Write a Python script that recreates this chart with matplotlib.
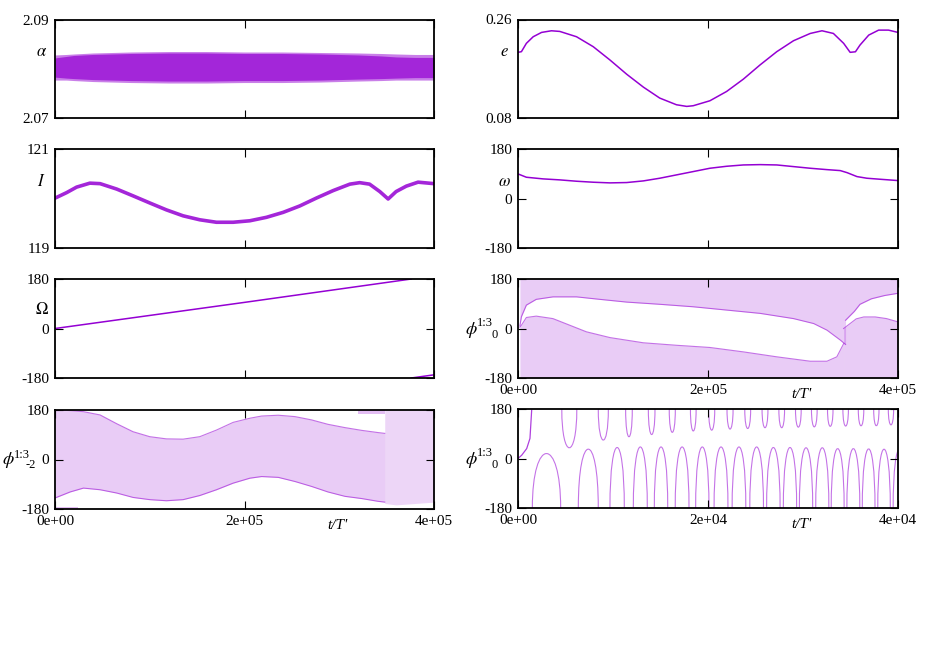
import numpy as np
import matplotlib
matplotlib.use('Agg')
import matplotlib.pyplot as plt
from matplotlib.path import Path
from matplotlib.patches import PathPatch

plt.rcParams['font.family'] = ['Liberation Serif', 'DejaVu Serif']
plt.rcParams['mathtext.fontset'] = 'stix'
plt.rcParams['font.size'] = 11

PURPLE = '#9400d3'

# ---------------- data ----------------
# alpha band envelopes
alpha_t = [0, 12000, 20000, 40000, 80000, 120000, 160000, 200000, 240000, 280000,
           320000, 344000, 360000, 380000, 400000]
alpha_hi = [2.0828, 2.0829, 2.0830, 2.0832, 2.0834, 2.0835, 2.0835, 2.0834, 2.0834,
            2.0833, 2.0832, 2.0831, 2.0830, 2.0829, 2.0829]
alpha_lo = [2.0777, 2.0777, 2.0776, 2.0774, 2.0772, 2.0771, 2.0771, 2.0772, 2.0772,
            2.0773, 2.0775, 2.0776, 2.0777, 2.0777, 2.0777]
alpha_core_hi = [2.0822, 2.0825, 2.0827, 2.0829, 2.0831, 2.0832, 2.0832, 2.0831, 2.0831,
                 2.0830, 2.0828, 2.0826, 2.0824, 2.0823, 2.0823]
alpha_core_lo = [2.0783, 2.0781, 2.0780, 2.0778, 2.0776, 2.0775, 2.0775, 2.0776, 2.0776,
                 2.0777, 2.0779, 2.0780, 2.0781, 2.0782, 2.0782]

# eccentricity
e_t = [0, 3600, 8800, 16000, 24800, 35200, 44000, 61600, 79200, 96800, 114400, 132000,
       149200, 166800, 177600, 184400, 202000, 219600, 237200, 254800, 272400, 290000,
       307600, 320000, 332000, 342800, 349600, 355200, 360000, 369200, 379600, 390000, 400000]
e_val = [0.200, 0.2012, 0.2164, 0.2285, 0.2364, 0.2394, 0.2382, 0.2285, 0.2103, 0.186,
         0.160, 0.1364, 0.1164, 0.1042, 0.1012, 0.1024, 0.1115, 0.1285, 0.151, 0.177,
         0.2012, 0.2212, 0.2345, 0.2394, 0.2345, 0.2164, 0.200, 0.201, 0.2133, 0.2315,
         0.2406, 0.2406, 0.2364]

# inclination
i_t = [0, 12400, 22800, 36800, 47600, 65200, 82800, 100000, 117600, 135200, 152800,
       170400, 188000, 205600, 223200, 240800, 258400, 276000, 293600, 311200, 321600,
       332000, 342800, 351600, 360000, 370800, 383200, 400000]
i_val = [120.007, 120.12, 120.23, 120.31, 120.30, 120.19, 120.05, 119.91, 119.77, 119.65,
         119.57, 119.52, 119.52, 119.55, 119.62, 119.72, 119.85, 120.01, 120.16, 120.29,
         120.32, 120.29, 120.14, 119.99, 120.14, 120.25, 120.33, 120.30]

# argument of pericentre
w_t = [0, 8800, 26400, 44000, 61600, 79200, 96800, 114400, 132000, 149200, 166800,
       184400, 202000, 219600, 237200, 254800, 272400, 290000, 307600, 325200, 339200,
       346400, 356800, 367200, 381200, 400000]
w_val = [89.4, 77.3, 71.3, 67.7, 62.8, 59.2, 56.8, 58, 64, 73.7, 85.8, 97.9, 110, 117.2,
         122, 123.2, 122, 116, 110, 105, 101.5, 94, 79.7, 73.7, 70, 65.2]

# longitude of node (two branches, wrapped)
om_t1 = [0, 200000, 376000]
om_v1 = [0, 95, 180]
om_t2 = [376000, 400000]
om_v2 = [-180, -168.5]

# phi_0 (long run): upper band lower edge and lower band upper edge
p6_up_tA = [2000, 3600, 8800, 19200, 36800, 61600, 86000, 114400, 149200, 184400,
            219600, 254800, 290000, 311200, 325200, 339200, 344800]
p6_up_vA = [10, 43, 85, 106, 115, 115, 106, 96, 88, 79, 67, 55, 36, 18, -6, -42, -58]
p6_up_tB = [344800, 354000, 360000, 372000, 386000, 400000]
p6_up_vB = [30, 62, 88, 108, 120, 128]
p6_lo_tA = [2000, 3600, 8800, 19200, 36800, 54400, 72000, 96800, 132000, 166800, 202000,
            237200, 272400, 307600, 325200, 335600, 342800]
p6_lo_vA = [5, 12, 40, 45, 36, 12, -12, -33, -52, -61, -69, -85, -103, -119, -119, -103, -55]
p6_lo_tB = [342800, 356000, 364000, 376000, 388000, 400000]
p6_lo_vB = [0, 35, 42, 42, 36, 24]

# phi_-2 (long run): band edges
p7_t = [0, 16000, 30000, 47600, 65200, 82400, 100000, 117600, 135200, 152800, 170400,
        188000, 205600, 218000, 235600, 253200, 270800, 288000, 306000, 323600, 340800, 348000]
p7_hi = [180, 178, 174, 162, 130, 101, 83, 75, 74, 83, 107, 135, 150, 158, 161, 156, 144,
         128, 116, 106, 98, 95]
p7_lo = [-140, -118, -104, -110, -122, -138, -146, -150, -146, -131, -110, -86, -68, -62,
         -65, -80, -98, -118, -134, -142, -152, -155]
p7_right_t = [348000, 360000, 380000, 400000]
p7_right_lo = [-160, -165, -160, -155]
p7_top_t = [320000, 348000]
p7_top_lo = [164, 164]
p7_corner_t = [0, 24000]
p7_corner_hi = [-171, -171]

# phi_0 (short run)
p8_start_t = [0, 390, 915, 1260, 1440]
p8_start_v = [0, 12, 36, 73, 176]
arch_left = [1510, 6350, 9680, 12140, 14350, 16550, 18700, 20640, 22540, 24400, 26170,
             27930, 29620, 31340, 32970, 34620, 36240, 37870, 39490]
arch_peak = [3020, 7470, 10390, 12840, 15050, 17300, 19400, 21370, 23260, 25120, 26880,
             28630, 30320, 32030, 33650, 35300, 36910, 38530, 40150]
arch_right = [4490, 8450, 11190, 13610, 15760, 18000, 20100, 22100, 23980, 25840, 27590,
              29330, 31020, 32720, 34330, 35980, 37580, 39190, 40810]
arch_val = [18, 34, 40, 42, 42, 42, 42, 42, 42, 42, 40, 40, 39, 39, 36, 36, 35, 34, 34]
dip_t = [5400, 8980, 11680, 14070, 16240, 18450, 20390, 22320, 24180, 26000, 27760,
         29510, 31190, 32870, 34490, 36110, 37720, 39260]
dip_val = [39, 67, 79, 87, 95, 100, 103, 107, 109, 112, 112, 114, 115, 117, 118, 119, 119, 122]
dip_half = [790, 530, 350, 350, 320, 300, 320, 320, 310, 310, 300, 300, 300, 290, 290,
            290, 280, 280]

# ---------------- figure ----------------
fig = plt.figure(figsize=(9.26, 6.49), dpi=100)

W = 926.0
H = 649.0


def make_ax(x0, x1, y0, y1):
    return fig.add_axes([x0 / W, 1 - y1 / H, (x1 - x0) / W, (y1 - y0) / H])


LX = (55, 434)
RX = (518, 898)
ax1 = make_ax(*LX, 19.5, 118)
ax2 = make_ax(*RX, 19.5, 118)
ax3 = make_ax(*LX, 149, 248)
ax4 = make_ax(*RX, 149, 248)
ax5 = make_ax(*LX, 279, 378)
ax6 = make_ax(*RX, 279, 378)
ax7 = make_ax(*LX, 410, 509)
ax8 = make_ax(*RX, 409, 508)


def style(ax, xmax, ylim, yticks, yticklabels, xlabels=False):
    ax.set_xlim(0, xmax)
    ax.set_ylim(*ylim)
    ax.set_xticks([0, xmax / 2, xmax])
    ax.set_yticks(yticks)
    ax.set_yticklabels(yticklabels)
    if xlabels:
        if xmax == 4e5:
            ax.set_xticklabels(['0e+00', '2e+05', '4e+05'])
        else:
            ax.set_xticklabels(['0e+00', '2e+04', '4e+04'])
        ax.text(0.745, -0.17, "t/T'", transform=ax.transAxes, ha='center', va='center',
                fontstyle='italic', fontsize=11)
    else:
        ax.set_xticklabels([])
    ax.tick_params(direction='in', length=6, width=0.8, top=True, right=True,
                   labelsize=11, pad=4, colors='black')
    for s in ax.spines.values():
        s.set_linewidth(1.3)


def ylab(ax, text, x=-0.035, y=0.67, size=12):
    ax.text(x, y, text, transform=ax.transAxes, ha='center', va='center', fontsize=size)


def phi_label(sub, x_px, y_mid_px, sub_dx):
    # phi with superscript "1:3" followed by subscript, placed in figure pixels
    fig.text(x_px / W, 1 - (y_mid_px + 1) / H, r'$\phi$', ha='left', va='center', fontsize=13)
    fig.text((x_px + 12) / W, 1 - (y_mid_px - 5) / H, '1:3', ha='left', va='center', fontsize=9)
    fig.text((x_px + sub_dx) / W, 1 - (y_mid_px + 6) / H, sub, ha='left', va='center', fontsize=9)


# Panel 1: alpha
ax1.fill_between(alpha_t, alpha_lo, alpha_hi, color=PURPLE, alpha=0.5, lw=0)
ax1.fill_between(alpha_t, alpha_core_lo, alpha_core_hi, color=PURPLE, alpha=0.7, lw=0)
style(ax1, 4e5, (2.07, 2.09), [2.07, 2.09], ['2.07', '2.09'])
ylab(ax1, r'$\alpha$')

# Panel 2: e
ax2.plot(e_t, e_val, color=PURPLE, lw=1.1)
style(ax2, 4e5, (0.08, 0.26), [0.08, 0.26], ['0.08', '0.26'])
ylab(ax2, r'$e$')

# Panel 3: I
ax3.plot(i_t, i_val, color=PURPLE, lw=2.6, alpha=0.85)
style(ax3, 4e5, (119, 121), [119, 121], ['119', '121'])
ylab(ax3, r'$I$')

# Panel 4: omega
ax4.plot(w_t, w_val, color=PURPLE, lw=1.1)
style(ax4, 4e5, (-180, 180), [-180, 0, 180], ['-180', '0', '180'])
ylab(ax4, r'$\omega$', y=0.67)

# Panel 5: Omega
ax5.plot(om_t1, om_v1, color=PURPLE, lw=1.1)
ax5.plot(om_t2, om_v2, color=PURPLE, lw=1.1)
style(ax5, 4e5, (-180, 180), [-180, 0, 180], ['-180', '0', '180'])
ylab(ax5, r'$\Omega$', y=0.69)

FILL_A = 0.2
EDGE_A = 0.55

# Panel 6: phi_0 long run
ax6.fill_between(p6_up_tA, p6_up_vA, 180, color=PURPLE, alpha=FILL_A, lw=0)
ax6.fill_between(p6_up_tB, p6_up_vB, 180, color=PURPLE, alpha=FILL_A, lw=0)
ax6.fill_between(p6_lo_tA, -180, p6_lo_vA, color=PURPLE, alpha=FILL_A, lw=0)
ax6.fill_between(p6_lo_tB, -180, p6_lo_vB, color=PURPLE, alpha=FILL_A, lw=0)
for tt, vv in [(p6_up_tA, p6_up_vA), (p6_up_tB, p6_up_vB), (p6_lo_tA, p6_lo_vA), (p6_lo_tB, p6_lo_vB)]:
    ax6.plot(tt, vv, color=PURPLE, lw=0.8, alpha=EDGE_A)
style(ax6, 4e5, (-180, 180), [-180, 0, 180], ['-180', '0', '180'], xlabels=True)
phi_label('0', 465, 328.5, 27)

# Panel 7: phi_-2 long run
ax7.fill_between(p7_t, p7_lo, p7_hi, color=PURPLE, alpha=FILL_A, lw=0)
ax7.fill_between(p7_right_t, p7_right_lo, 180, color=PURPLE, alpha=FILL_A * 0.8, lw=0)
ax7.fill_between(p7_top_t, p7_top_lo, 180, color=PURPLE, alpha=FILL_A * 1.3, lw=0)
ax7.fill_between(p7_corner_t, -180, p7_corner_hi, color=PURPLE, alpha=FILL_A * 1.3, lw=0)
ax7.plot(p7_t, p7_hi, color=PURPLE, lw=0.8, alpha=EDGE_A)
ax7.plot(p7_t, p7_lo, color=PURPLE, lw=0.8, alpha=EDGE_A)
style(ax7, 4e5, (-180, 180), [-180, 0, 180], ['-180', '0', '180'], xlabels=True)
phi_label('-2', 2, 459.5, 24)

# Panel 8: phi_0 short run
ax8.plot(p8_start_t, p8_start_v, color=PURPLE, lw=0.9, alpha=0.75)


def bezier_arc(ax, left, right, extreme, base):
    ctrl = (extreme - 0.25 * base) / 0.75
    verts = [(left, base), (left, ctrl), (right, ctrl), (right, base)]
    codes = [Path.MOVETO, Path.CURVE4, Path.CURVE4, Path.CURVE4]
    patch = PathPatch(Path(verts, codes), fill=False, edgecolor=PURPLE, lw=0.8, alpha=0.55)
    patch.set_clip_on(True)
    ax.add_patch(patch)


for l, r, v in zip(arch_left, arch_right, arch_val):
    bezier_arc(ax8, l, r, v, -180)
for c, v, h in zip(dip_t, dip_val, dip_half):
    bezier_arc(ax8, c - h, c + h, v, 180)
style(ax8, 4e4, (-180, 180), [-180, 0, 180], ['-180', '0', '180'], xlabels=True)
phi_label('0', 465, 458.5, 27)

fig.savefig('out.png', dpi=100)
